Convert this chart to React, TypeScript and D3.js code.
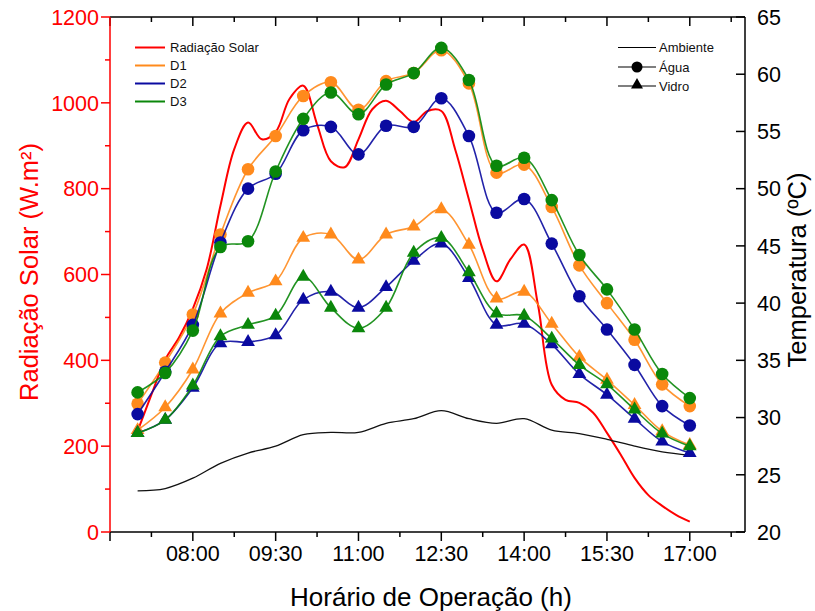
import React from "react";
import * as d3 from "d3";

// Sampling times (30-min) for the temperature series
const times = [
  "07:00", "07:30", "08:00", "08:30", "09:00", "09:30", "10:00", "10:30", "11:00", "11:30",
  "12:00", "12:30", "13:00", "13:30", "14:00", "14:30", "15:00", "15:30", "16:00", "16:30", "17:00",
];

// Solar radiation (W/m²), logged every 15 min
const radTimes = [
  "07:00", "07:15", "07:30", "07:45", "08:00", "08:15", "08:30", "08:45", "09:00", "09:15",
  "09:30", "09:45", "10:00", "10:15", "10:30", "10:45", "11:00", "11:15", "11:30", "11:45",
  "12:00", "12:15", "12:30", "12:45", "13:00", "13:15", "13:30", "13:45", "14:00", "14:15",
  "14:30", "14:45", "15:00", "15:15", "15:30", "15:45", "16:00", "16:15", "16:30", "16:45", "17:00",
];
const radiacao = [
  235, 320, 402, 453, 520, 612, 760, 892, 954, 915,
  932, 1009, 1040, 950, 864, 850, 915, 985, 1005, 981,
  955, 981, 981, 892, 775, 658, 584, 635, 670, 530,
  343, 308, 301, 278, 231, 180, 126, 86, 61, 40, 24,
];

// Temperatures (°C)
const ambiente = [
  23.6, 23.8, 24.7, 26.0, 26.9, 27.5, 28.5, 28.7, 28.7, 29.5,
  29.9, 30.6, 29.9, 29.5, 29.9, 28.9, 28.6, 28.1, 27.5, 27.0, 26.7,
];
const d1Agua = [
  31.2, 34.8, 39.0, 46.0, 51.7, 54.6, 58.1, 59.3, 56.9, 59.4,
  60.1, 62.1, 59.2, 51.4, 52.1, 48.4, 43.3, 40.0, 36.8, 32.9, 31.0,
];
const d2Agua = [
  30.3, 34.0, 38.1, 45.3, 50.0, 51.3, 55.1, 55.4, 53.0, 55.5,
  55.4, 57.9, 54.6, 47.9, 49.1, 45.2, 40.6, 37.7, 34.6, 31.0, 29.3,
];
const d3Agua = [
  32.2, 33.9, 37.6, 44.9, 45.4, 51.5, 56.1, 58.4, 56.5, 59.1,
  60.1, 62.3, 59.5, 52.0, 52.7, 49.0, 44.2, 41.2, 37.7, 33.8, 31.7,
];
const d1Vidro = [
  28.9, 30.9, 34.2, 39.1, 40.9, 41.9, 45.7, 46.0, 43.8, 46.0,
  46.7, 48.2, 45.1, 40.4, 41.0, 38.2, 35.3, 33.3, 31.1, 28.8, 27.6,
];
const d2Vidro = [
  28.65, 29.8, 32.6, 36.5, 36.6, 37.2, 40.3, 41.0, 39.6, 41.4,
  43.7, 45.2, 42.2, 38.1, 38.2, 36.4, 33.8, 32.0, 29.9, 27.9, 26.9,
];
const d3Vidro = [
  28.65, 29.8, 32.8, 37.1, 38.1, 38.9, 42.3, 39.6, 37.8, 39.6,
  44.4, 45.7, 42.7, 39.1, 38.9, 36.9, 34.6, 32.9, 30.7, 28.6, 27.5,
];

const xTickLabels = ["08:00", "09:30", "11:00", "12:30", "14:00", "15:30", "17:00"];
const radTicks = [0, 200, 400, 600, 800, 1000, 1200];
const tempTicks = [20, 25, 30, 35, 40, 45, 50, 55, 60, 65];

const C_RED = "#ff0000";
const C_ORANGE = "#ff8a1c";
const C_BLUE = "#0a0aa0";
const C_GREEN = "#0a870a";
const FONT = "'Liberation Sans', Arial, Helvetica, sans-serif";

const toHours = (s: string) => {
  const [h, m] = s.split(":").map(Number);
  return h + m / 60;
};

export default function App() {
  const W = 815;
  const H = 611;
  const left = 110;
  const right = 745;
  const top = 17;
  const bottom = 532;

  const x = d3.scaleLinear().domain([6.5, 18]).range([left, right]);
  const yR = d3.scaleLinear().domain([0, 1200]).range([bottom, top]);
  const yT = d3.scaleLinear().domain([20, 65]).range([bottom, top]);

  const hrs = times.map(toHours);
  const curve = d3.curveCatmullRom.alpha(0.5);

  const tempLine = (vals: number[]) =>
    d3
      .line<number>()
      .x((_, i) => x(hrs[i]))
      .y((v) => yT(v))
      .curve(curve)(vals) as string;

  const radLine = d3
    .line<number>()
    .x((_, i) => x(toHours(radTimes[i])))
    .y((v) => yR(v))
    .curve(curve)(radiacao) as string;

  const tri = d3.symbol().type(d3.symbolTriangle).size(82)() as string;
  const triSmall = d3.symbol().type(d3.symbolTriangle).size(62)() as string;

  const series = [
    { vals: d1Agua, color: C_ORANGE, shape: "circle" },
    { vals: d2Agua, color: C_BLUE, shape: "circle" },
    { vals: d3Agua, color: C_GREEN, shape: "circle" },
    { vals: d1Vidro, color: C_ORANGE, shape: "tri" },
    { vals: d2Vidro, color: C_BLUE, shape: "tri" },
    { vals: d3Vidro, color: C_GREEN, shape: "tri" },
  ];

  // x ticks every 45 min, labelled every 90 min
  const xMinor = d3.range(6.5 + 0.75, 18, 1.5);
  const xMajor = d3.range(6.5, 18, 1.5);
  const labelHours = xTickLabels.map(toHours);
  const radMinor = d3.range(100, 1200, 200);

  return (
    <svg
      width={W}
      height={H}
      style={{ position: "absolute", left: 0, top: 0, background: "#fff" }}
      fontFamily={FONT}
    >
      <rect x={0} y={0} width={W} height={H} fill="#fff" />

      {/* radiation curve */}
      <path d={radLine} fill="none" stroke={C_RED} strokeWidth={2} />

      {/* ambient temperature */}
      <path d={tempLine(ambiente)} fill="none" stroke="#111" strokeWidth={1.3} />

      {/* temperature series with markers */}
      {series.map((s, k) => (
        <g key={k}>
          <path d={tempLine(s.vals)} fill="none" stroke={s.color} strokeWidth={1.6} strokeOpacity={0.9} />
          {s.vals.map((v, i) =>
            s.shape === "circle" ? (
              <circle key={i} cx={x(hrs[i])} cy={yT(v)} r={6.3} fill={s.color} />
            ) : (
              <path key={i} d={tri} transform={`translate(${x(hrs[i])},${yT(v)})`} fill={s.color} />
            )
          )}
        </g>
      ))}

      {/* frame */}
      <line x1={left} x2={right} y1={top} y2={top} stroke="#000" strokeWidth={1.5} />
      <line x1={left} x2={right} y1={bottom} y2={bottom} stroke="#000" strokeWidth={1.5} />
      <line x1={right} x2={right} y1={top} y2={bottom} stroke="#000" strokeWidth={1.5} />

      {/* bottom / top x ticks */}
      {xMajor.map((h) => (
        <g key={"M" + h}>
          <line x1={x(h)} x2={x(h)} y1={bottom} y2={bottom + 9} stroke="#000" strokeWidth={1.5} />
          <line x1={x(h)} x2={x(h)} y1={top} y2={top + 9} stroke="#000" strokeWidth={1.5} />
        </g>
      ))}
      {xMinor.map((h) => (
        <g key={"m" + h}>
          <line x1={x(h)} x2={x(h)} y1={bottom} y2={bottom + 5} stroke="#000" strokeWidth={1.5} />
          <line x1={x(h)} x2={x(h)} y1={top} y2={top + 5} stroke="#000" strokeWidth={1.5} />
        </g>
      ))}
      {xTickLabels.map((t, i) => (
        <text key={t} x={x(labelHours[i])} y={561} fontSize={21.5} textAnchor="middle" fill="#000">
          {t}
        </text>
      ))}

      {/* left radiation axis */}
      <line x1={left} x2={left} y1={top} y2={bottom} stroke={C_RED} strokeWidth={1.5} />
      {radTicks.map((v) => (
        <g key={"r" + v}>
          <line x1={left - 9} x2={left} y1={yR(v)} y2={yR(v)} stroke={C_RED} strokeWidth={1.5} />
          <text x={left - 11} y={yR(v)} dy="0.36em" fontSize={21.5} textAnchor="end" fill={C_RED}>
            {v}
          </text>
        </g>
      ))}
      {radMinor.map((v) => (
        <line key={"rm" + v} x1={left - 5} x2={left} y1={yR(v)} y2={yR(v)} stroke={C_RED} strokeWidth={1.5} />
      ))}

      {/* right temperature axis */}
      {tempTicks.map((v) => (
        <g key={"t" + v}>
          <line x1={right - 9} x2={right} y1={yT(v)} y2={yT(v)} stroke="#000" strokeWidth={1.5} />
          <text x={right + 12} y={yT(v)} dy="0.36em" fontSize={21.5} textAnchor="start" fill="#000">
            {v}
          </text>
        </g>
      ))}

      {/* axis titles */}
      <text
        transform="translate(38,272) rotate(-90)"
        fontSize={25.5}
        textAnchor="middle"
        fill={C_RED}
      >
        Radiação Solar (W.m²)
      </text>
      <text
        transform="translate(806,270) rotate(-90)"
        fontSize={25.5}
        textAnchor="middle"
        fill="#000"
      >
        Temperatura (ºC)
      </text>
      <text x={431} y={606} fontSize={26} textAnchor="middle" fill="#000">
        Horário de Operação (h)
      </text>

      {/* legend: series colours */}
      {[
        { label: "Radiação Solar", color: C_RED },
        { label: "D1", color: C_ORANGE },
        { label: "D2", color: C_BLUE },
        { label: "D3", color: C_GREEN },
      ].map((d, i) => (
        <g key={d.label} transform={`translate(0,${47.5 + i * 18})`}>
          <line x1={135} x2={165} y1={0} y2={0} stroke={d.color} strokeWidth={2} />
          <text x={170} y={0} dy="0.36em" fontSize={13} fill="#111">
            {d.label}
          </text>
        </g>
      ))}

      {/* legend: line / marker meaning */}
      <g transform="translate(0,47.5)">
        <line x1={618} x2={656} y1={0} y2={0} stroke="#000" strokeWidth={1.2} />
        <text x={659} y={0} dy="0.36em" fontSize={13} fill="#111">Ambiente</text>
      </g>
      <g transform="translate(0,67)">
        <line x1={618} x2={656} y1={0} y2={0} stroke="#000" strokeWidth={1.2} />
        <circle cx={637} cy={0} r={5.5} fill="#000" />
        <text x={659} y={0} dy="0.36em" fontSize={13} fill="#111">Água</text>
      </g>
      <g transform="translate(0,86)">
        <line x1={618} x2={656} y1={0} y2={0} stroke="#000" strokeWidth={1.2} />
        <path d={triSmall} transform="translate(637,-1)" fill="#000" />
        <text x={659} y={0} dy="0.36em" fontSize={13} fill="#111">Vidro</text>
      </g>
    </svg>
  );
}
